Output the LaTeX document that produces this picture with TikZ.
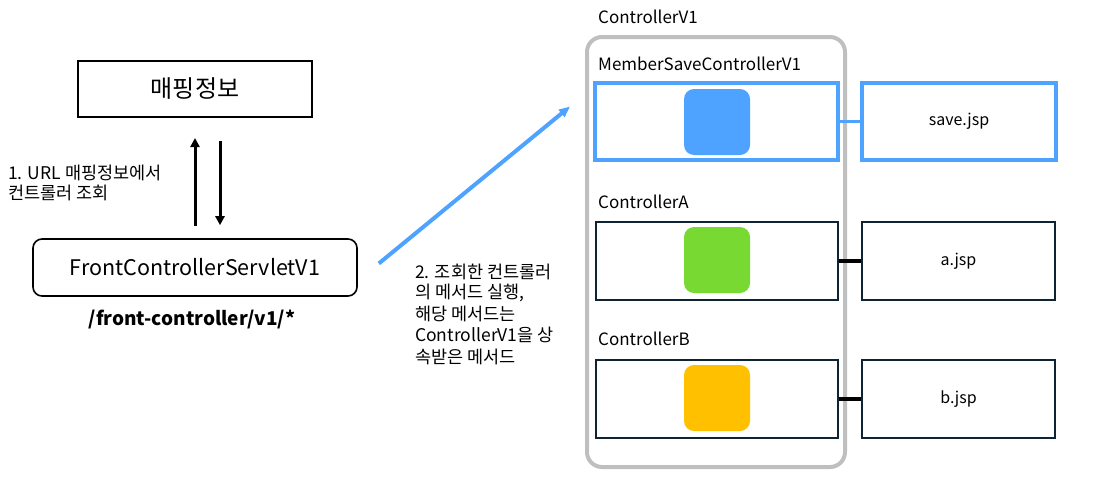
\documentclass[tikz,border=0pt]{standalone}
\usepackage{fontspec}
\setmainfont{Noto Sans CJK KR}
\usetikzlibrary{arrows.meta}
\definecolor{callblue}{HTML}{4DA3FF}
\definecolor{boxnavy}{HTML}{0E2433}
\definecolor{framegray}{HTML}{BFBFBF}
\definecolor{fillgreen}{HTML}{78D932}
\definecolor{fillyellow}{HTML}{FFC000}

\begin{document}
\begin{tikzpicture}[x=1pt,y=-1pt,
		plainbox/.style={draw=black,line width=2pt,inner sep=0pt},
		ctrlbox/.style={draw=boxnavy,line width=2.5pt,minimum width=242,minimum height=78,inner sep=0pt},
		jspbox/.style={draw=boxnavy,line width=2.5pt,minimum width=193,minimum height=78,inner sep=0pt},
		chip/.style={rounded corners=10pt,minimum size=66,inner sep=0pt},
		caption/.style={anchor=base west,inner sep=0pt,font=\fontsize{17}{21.5}\selectfont}]
	\useasboundingbox (0,0) rectangle (1093,477);
	% 왼쪽: 매핑정보와 프론트 컨트롤러
	\node[plainbox,minimum width=234,minimum height=56,font=\fontsize{24}{26}\selectfont] (mapping) at (195,89) {매핑정보};
	\node[plainbox,line width=1.6pt,rounded corners=9pt,minimum width=324,minimum height=57,font=\fontsize{21.5}{24}\selectfont] (front) at (195,267.5) {FrontControllerServletV1};
	\node[anchor=base,inner sep=0pt,font=\fontsize{19}{20}\selectfont\bfseries] (url) at (192,325) {/front-controller/v1/*};
	% 조회 화살표
	\draw[-{Triangle[length=9pt,width=9pt]},line width=3pt] ([yshift=12pt]front.north) -- ([yshift=-20pt]mapping.south);
	\draw[-{Triangle[length=9pt,width=9pt]},line width=3pt] ([xshift=25pt,yshift=-23pt]mapping.south) -- ([xshift=25pt,yshift=13pt]front.north);
	\node[caption,font=\fontsize{17.5}{21.5}\selectfont] (lookup) at (8,179) {1. URL 매핑정보에서};
	\node[caption,font=\fontsize{17.5}{21.5}\selectfont,anchor=north west] (lookup2) at ([yshift=-6pt]lookup.base west) {컨트롤러 조회};
	% ControllerV1 영역
	\node[draw=framegray,line width=4pt,rounded corners=15pt,minimum width=258,minimum height=430] (v1) at (716,252) {};
	\node[caption] (v1label) at (598,23) {ControllerV1};
	\node[caption] (memberlabel) at (598,70) {MemberSaveControllerV1};
	\node[caption] (alabel) at (598,208) {ControllerA};
	\node[caption] (blabel) at (598,345) {ControllerB};
	% 컨트롤러 박스
	\node[ctrlbox,draw=callblue,line width=4pt,minimum width=243,minimum height=77] (member) at (716.5,121.5) {};
	\node[ctrlbox] (ctrla) at (717,261) {};
	\node[ctrlbox] (ctrlb) at (717,399) {};
	\node[chip,fill=callblue] (memberchip) at (717,122) {};
	\node[chip,fill=fillgreen] (achip) at (717,260) {};
	\node[chip,fill=fillyellow] (bchip) at (717,398) {};
	% 뷰 박스
	\node[jspbox,draw=callblue,line width=4pt,minimum width=194,minimum height=77,font=\fontsize{16}{20}\selectfont] (savejsp) at (959,121.5) {save.jsp};
	\node[jspbox,font=\fontsize{16}{20}\selectfont] (ajsp) at (958.5,261) {a.jsp};
	\node[jspbox,font=\fontsize{16}{20}\selectfont] (bjsp) at (958.5,399) {b.jsp};
	\draw[callblue,line width=3pt] (member.east) -- (savejsp.west);
	\draw[black,line width=3.5pt] (ctrla.east) -- (ajsp.west);
	\draw[black,line width=3.5pt] (ctrlb.east) -- (bjsp.west);
	% 호출 화살표
	\draw[-{Triangle[length=11pt,width=9pt]},callblue,line width=4pt] ([xshift=21pt,yshift=4pt]front.east) -- ([xshift=-23pt,yshift=15pt]member.west);
	\node[caption,font=\fontsize{17.5}{21.5}\selectfont] (call1) at (415,278) {2. 조회한 컨트롤러};
	\node[caption,font=\fontsize{17.5}{21.5}\selectfont,anchor=north west,align=left] (call2) at ([yshift=-6pt]call1.base west) {의 메서드 실행,\\해당 메서드는\\ControllerV1을 상\\속받은 메서드};
\end{tikzpicture}
\end{document}
